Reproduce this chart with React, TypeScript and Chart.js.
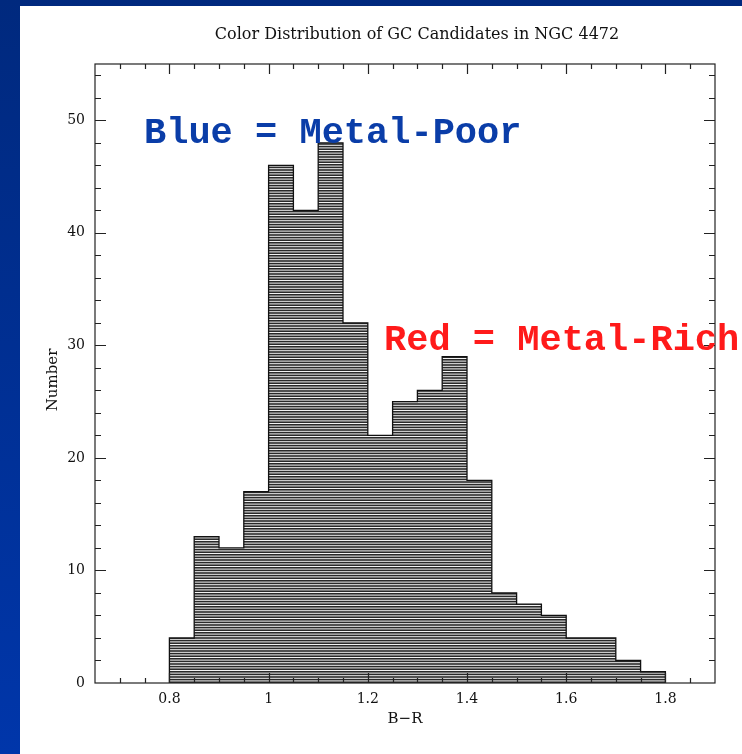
import { useEffect, useRef } from 'react';
import { Chart, registerables } from 'chart.js';

Chart.register(...registerables);

const WIDTH = 742;
const HEIGHT = 754;

// Histogram of B-R colours: left edge of each 0.05-wide bin and its count
const binLeft = [0.8, 0.85, 0.9, 0.95, 1.0, 1.05, 1.1, 1.15, 1.2, 1.25, 1.3, 1.35, 1.4, 1.45, 1.5, 1.55, 1.6, 1.65, 1.7, 1.75];
const counts = [4, 13, 12, 17, 46, 42, 48, 32, 22, 25, 26, 29, 18, 8, 7, 6, 4, 4, 2, 1];
const binWidth = 0.05;

// Axis ranges and labelled ticks
const xRange = [0.65, 1.9];
const yRange = [0, 55];
const xTickLabels = [0.8, 1, 1.2, 1.4, 1.6, 1.8];
const yTickLabels = [0, 10, 20, 30, 40, 50];
const xMinorStep = 0.05;
const yMinorStep = 2;

const chartTitle = 'Color Distribution of GC Candidates in NGC 4472';
const xTitle = 'B\u2212R';
const yTitle = 'Number';
const blueNote = 'Blue = Metal-Poor';
const redNote = 'Red = Metal-Rich';

const serif = '"DejaVu Serif", serif';

function histogramOutline() {
  const last = binLeft.length - 1;
  const right = binLeft[last] + binWidth;
  return [
    { x: binLeft[0], y: 0 },
    ...binLeft.map((x, i) => ({ x, y: counts[i] })),
    { x: right, y: counts[last] },
    { x: right, y: 0 },
  ];
}

// Dense horizontal hatching; the fractional spacing gives uneven grey lines
function makeHatch(): CanvasPattern | string {
  const c = document.createElement('canvas');
  c.width = 8;
  c.height = 13;
  const g = c.getContext('2d');
  if (!g) return '#888';
  g.fillStyle = '#f4f4f4';
  g.fillRect(0, 0, 8, 13);
  g.fillStyle = '#2a2a2a';
  for (let i = 0; i < 5; i++) {
    g.fillRect(0, i * 2.6 + 0.2, 8, 1.6);
  }
  const p = g.createPattern(c, 'repeat');
  return p || '#888';
}

const backdrop = {
  id: 'backdrop',
  beforeDraw(chart: any) {
    const { ctx } = chart;
    ctx.save();
    const grad = ctx.createLinearGradient(0, 0, 0, HEIGHT);
    grad.addColorStop(0, '#00297e');
    grad.addColorStop(1, '#0036aa');
    ctx.fillStyle = grad;
    ctx.fillRect(0, 0, WIDTH, HEIGHT);
    ctx.fillStyle = '#ffffff';
    ctx.fillRect(20, 6, WIDTH - 20, HEIGHT - 6);
    ctx.restore();
  },
};

// Frame with inward ticks on all four sides
const frameTicks = {
  id: 'frameTicks',
  afterDatasetsDraw(chart: any) {
    const { ctx, chartArea: a, scales } = chart;
    const xs = scales.x;
    const ys = scales.y;
    ctx.save();
    ctx.strokeStyle = '#222';
    ctx.lineWidth = 1.2;
    ctx.strokeRect(a.left, a.top, a.right - a.left, a.bottom - a.top);
    ctx.beginPath();
    const xMajor = new Set(xTickLabels.map((v) => Math.round(v * 100)));
    for (let v = 0.7; v < xRange[1]; v += xMinorStep) {
      const px = Math.round(xs.getPixelForValue(v)) + 0.5;
      const len = xMajor.has(Math.round(v * 100)) ? 10 : 5;
      ctx.moveTo(px, a.bottom);
      ctx.lineTo(px, a.bottom - len);
      ctx.moveTo(px, a.top);
      ctx.lineTo(px, a.top + len);
    }
    const yMajor = new Set(yTickLabels);
    for (let v = yMinorStep; v < yRange[1]; v += yMinorStep) {
      const py = Math.round(ys.getPixelForValue(v)) + 0.5;
      const len = yMajor.has(v) ? 11 : 6;
      ctx.moveTo(a.left, py);
      ctx.lineTo(a.left + len, py);
      ctx.moveTo(a.right, py);
      ctx.lineTo(a.right - len, py);
    }
    ctx.stroke();
    ctx.restore();
  },
};

const texts = {
  id: 'texts',
  afterDraw(chart: any) {
    const { ctx } = chart;
    ctx.save();
    ctx.fillStyle = '#111';
    ctx.textAlign = 'center';
    ctx.textBaseline = 'middle';
    ctx.font = `16px ${serif}`;
    ctx.fillText(chartTitle, 417, 35);
    ctx.font = `15px ${serif}`;
    ctx.fillText(xTitle, 405, 719);
    ctx.save();
    ctx.translate(53, 380);
    ctx.rotate(-Math.PI / 2);
    ctx.fillText(yTitle, 0, 0);
    ctx.restore();

    ctx.textAlign = 'left';
    ctx.textBaseline = 'alphabetic';
    ctx.font = 'bold 37px "Liberation Mono", "Courier New", monospace';
    ctx.fillStyle = '#0a3da8';
    ctx.fillText(blueNote, 144, 143);
    ctx.fillStyle = '#ff1a1a';
    ctx.fillText(redNote, 384, 350);
    ctx.restore();
  },
};

export default function App() {
  const ref = useRef<HTMLCanvasElement | null>(null);

  useEffect(() => {
    const canvas = ref.current;
    if (!canvas) return;
    const chart = new Chart(canvas, {
      type: 'line',
      data: {
        datasets: [
          {
            data: histogramOutline(),
            stepped: 'before',
            fill: 'origin',
            backgroundColor: makeHatch(),
            borderColor: '#111',
            borderWidth: 1.3,
            pointRadius: 0,
            tension: 0,
          },
        ],
      },
      options: {
        responsive: false,
        animation: false,
        devicePixelRatio: 1,
        events: [],
        layout: { padding: { left: 0, right: 27, top: 64, bottom: 0 } },
        plugins: {
          legend: { display: false },
          tooltip: { enabled: false },
          title: { display: false },
        },
        scales: {
          x: {
            type: 'linear',
            min: xRange[0],
            max: xRange[1],
            grid: { display: false, drawTicks: false },
            border: { display: false },
            ticks: {
              font: { family: serif, size: 14 },
              color: '#111',
              padding: 8,
              maxRotation: 0,
              autoSkip: false,
              callback: (v: any) => String(v),
            },
            afterBuildTicks: (s: any) => {
              s.ticks = xTickLabels.map((value) => ({ value }));
            },
            afterFit: (s: any) => {
              s.height = 71;
            },
          },
          y: {
            type: 'linear',
            min: yRange[0],
            max: yRange[1],
            grid: { display: false, drawTicks: false },
            border: { display: false },
            ticks: {
              font: { family: serif, size: 14 },
              color: '#111',
              padding: 10,
              autoSkip: false,
              callback: (v: any) => String(v),
            },
            afterBuildTicks: (s: any) => {
              s.ticks = yTickLabels.map((value) => ({ value }));
            },
            afterFit: (s: any) => {
              s.width = 95;
            },
          },
        },
      },
      plugins: [backdrop, frameTicks, texts],
    } as any);
    return () => chart.destroy();
  }, []);

  return (
    <div style={{ position: 'fixed', left: 0, top: 0, width: WIDTH, height: HEIGHT }}>
      <canvas ref={ref} width={WIDTH} height={HEIGHT} style={{ display: 'block' }} />
    </div>
  );
}
